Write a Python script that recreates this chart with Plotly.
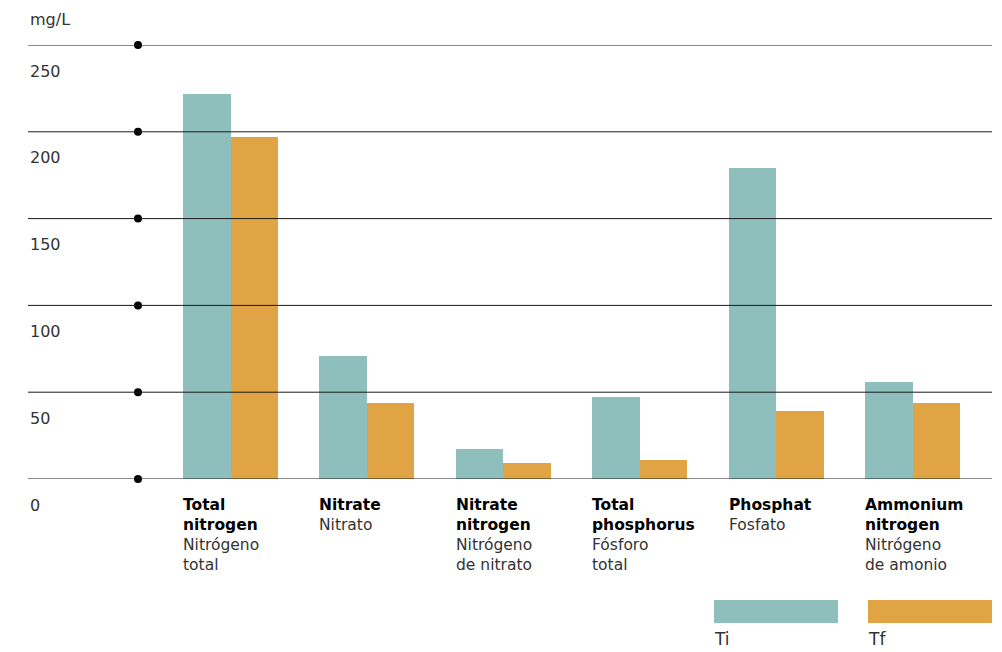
import plotly.graph_objects as go

# ---- data ----
categories_en = ["Total<br>nitrogen", "Nitrate", "Nitrate<br>nitrogen", "Total<br>phosphorus", "Phosphat", "Ammonium<br>nitrogen"]
categories_es = ["Nitrógeno<br>total", "Nitrato", "Nitrógeno<br>de nitrato", "Fósforo<br>total", "Fosfato", "Nitrógeno<br>de amonio"]
ti_values = [222, 71, 17, 47, 179, 56]
tf_values = [197, 44, 9, 11, 39, 44]
y_ticks = [0, 50, 100, 150, 200, 250]
y_tick_labels = ["0", "50", "100", "150", "200", "250"]
series_names = ["Ti", "Tf"]

TEAL = "#8fbfbd"
ORANGE = "#e0a444"
LINE = "#1a1a1a"
TEXT = "#333333"
FONT = "DejaVu Sans"

x_idx = list(range(len(categories_en)))
bw = 0.348

fig = go.Figure()
fig.add_trace(go.Bar(x=x_idx, y=ti_values, name=series_names[0], marker=dict(color=TEAL, line=dict(width=0)),
                     width=bw, offset=-bw, showlegend=False))
fig.add_trace(go.Bar(x=x_idx, y=tf_values, name=series_names[1], marker=dict(color=ORANGE, line=dict(width=0)),
                     width=bw, offset=0, showlegend=False))

x0 = -1.4846
x1 = 5.5828
dot_x = x0 + (138 - 28) / 136.4

# gridlines above bars
for t, lab in zip(y_ticks, y_tick_labels):
    fig.add_shape(type="line", xref="paper", x0=0, x1=1, yref="y", y0=t, y1=t,
                  line=dict(color=LINE, width=1), layer="above")
    fig.add_annotation(x=0, y=t, xref="paper", yref="y", xanchor="left", yanchor="middle",
                       yshift=-26, showarrow=False, text=lab,
                       font=dict(family=FONT, size=16, color=TEXT))

fig.add_trace(go.Scatter(x=[dot_x] * len(y_ticks), y=y_ticks, mode="markers",
                         marker=dict(color="#000000", size=8), cliponaxis=False,
                         showlegend=False, hoverinfo="skip"))

# category labels
for i, (en, es) in enumerate(zip(categories_en, categories_es)):
    bold = "<br>".join(f"<b>{p}</b>" for p in en.split("<br>"))
    fig.add_annotation(x=i - bw, y=0, xref="x", yref="y", xanchor="left", yanchor="top",
                       yshift=-15, xshift=-2, align="left", showarrow=False,
                       text=f"<span style='color:#000'>{bold}</span><br>{es}",
                       font=dict(family=FONT, size=15.5, color=TEXT))

# unit label
fig.add_annotation(x=0, y=1, xref="paper", yref="paper", xanchor="left", yanchor="bottom",
                   yshift=14, showarrow=False, text="mg/L", font=dict(family=FONT, size=16, color=TEXT))

# legend
for k, (nm, col) in enumerate(zip(series_names, [TEAL, ORANGE])):
    lx0 = (714 - 28) / 964 + k * (154 / 964)
    lx1 = lx0 + 124 / 964
    fig.add_shape(type="rect", xref="paper", yref="paper", x0=lx0, x1=lx1,
                  y0=-(600 - 479) / 434, y1=-(623 - 479) / 434,
                  fillcolor=col, line=dict(width=0))
    fig.add_annotation(x=lx0, y=-(651 - 479) / 434, xref="paper", yref="paper", xanchor="left",
                       yanchor="bottom", showarrow=False, text=nm,
                       font=dict(family=FONT, size=17, color=TEXT), xshift=-2)

fig.update_layout(
    width=1002, height=652,
    margin=dict(l=28, r=10, t=45, b=173),
    paper_bgcolor="white", plot_bgcolor="white",
    showlegend=False,
    bargap=0,
    xaxis=dict(range=[x0, x1], showticklabels=False, showgrid=False, zeroline=False, showline=False, ticks=""),
    yaxis=dict(range=[0, 250], showticklabels=False, showgrid=False, zeroline=False, showline=False, ticks=""),
    font=dict(family=FONT, color=TEXT),
)

fig.write_html("out.html", config={"displayModeBar": False},
               post_script="document.body.style.margin='0px';document.body.style.overflow='hidden';")
